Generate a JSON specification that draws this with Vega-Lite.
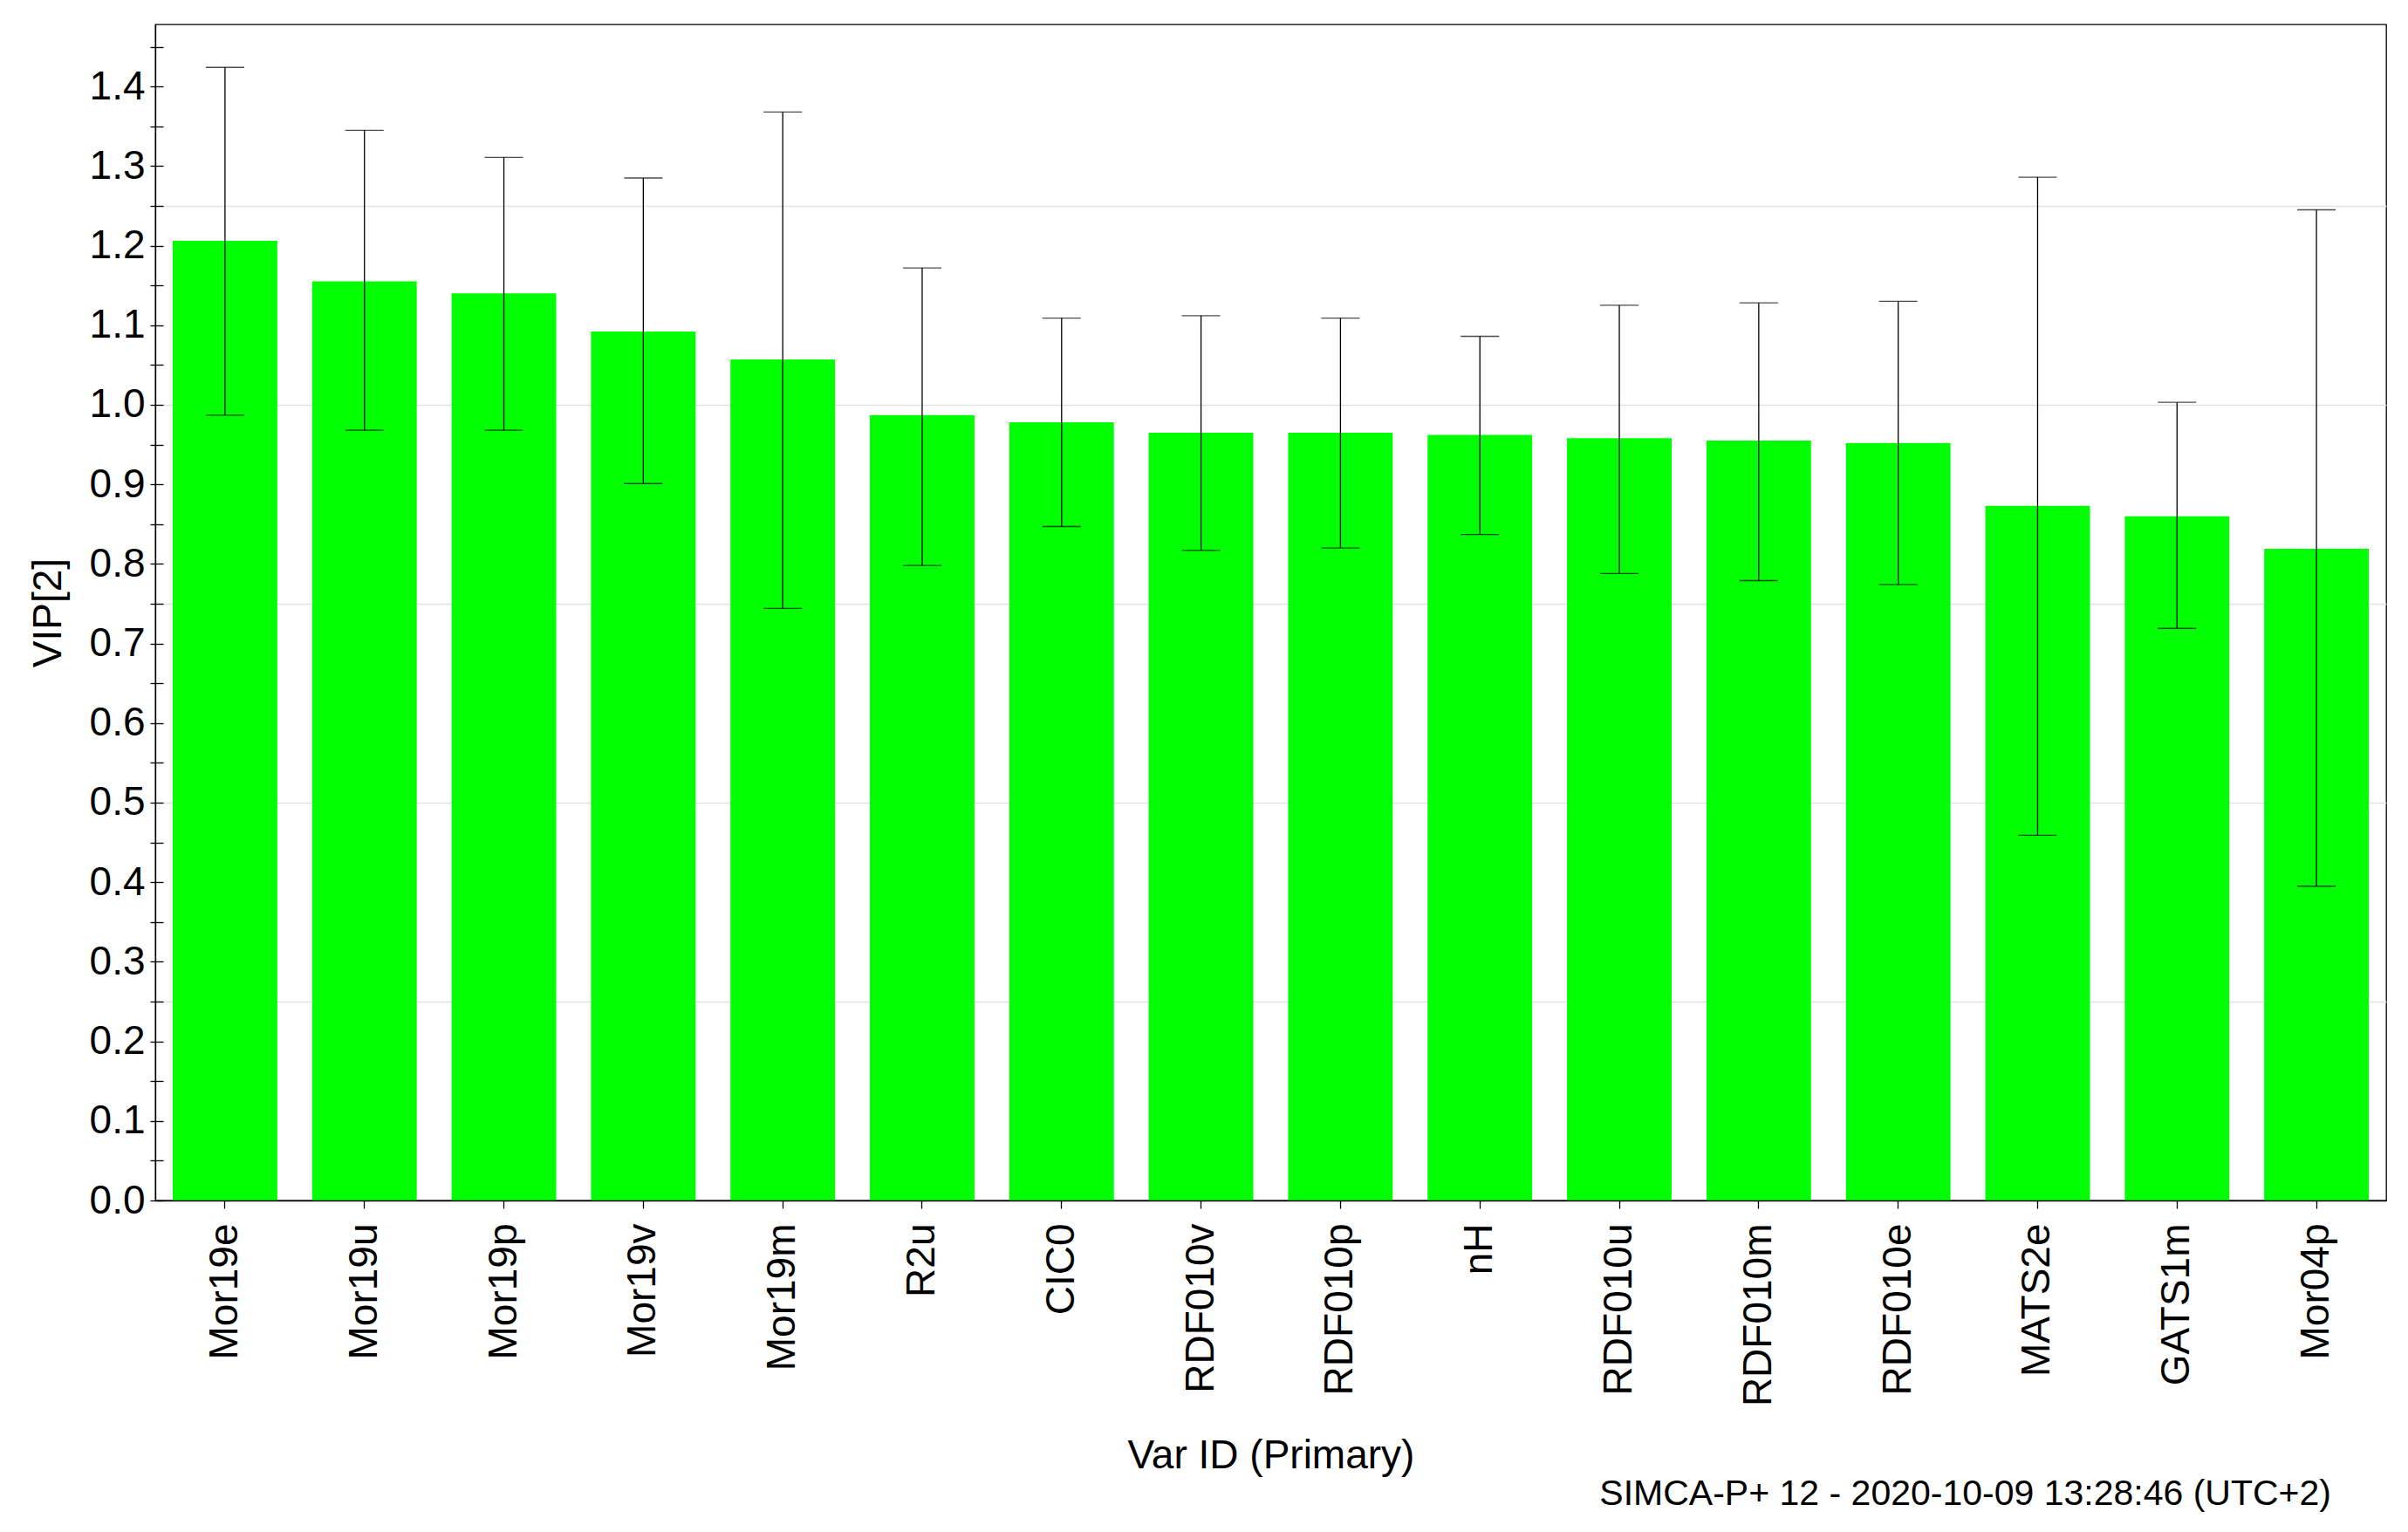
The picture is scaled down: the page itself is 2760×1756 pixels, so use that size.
{
  "$schema": "https://vega.github.io/schema/vega-lite/v6.json",
  "width": 2557,
  "height": 1348,
  "autosize": "none",
  "padding": {"left": 178, "top": 28, "right": 25, "bottom": 380},
  "background": "white",
  "config": {
    "font": "Liberation Sans",
    "view": {"stroke": "black", "strokeWidth": 1.3},
    "axis": {
      "labelFont": "Liberation Sans",
      "titleFont": "Liberation Sans",
      "labelColor": "black",
      "titleColor": "black",
      "domainColor": "black",
      "tickColor": "black",
      "labelFontSize": 46,
      "titleFontSize": 46,
      "titleFontWeight": "normal",
      "domainWidth": 1.3,
      "tickWidth": 1.3,
      "labelLimit": 1000
    }
  },
  "title": {
    "text": "SIMCA-P+ 12 - 2020-10-09 13:28:46 (UTC+2)",
    "orient": "bottom",
    "anchor": "end",
    "fontSize": 41,
    "fontWeight": "normal",
    "font": "Liberation Sans",
    "color": "black",
    "offset": 2,
    "dx": -63
  },
  "data": {
    "values": [
      {"var": "Mor19e", "vip": 1.206, "low": 0.987, "high": 1.424},
      {"var": "Mor19u", "vip": 1.155, "low": 0.968, "high": 1.345},
      {"var": "Mor19p", "vip": 1.140, "low": 0.968, "high": 1.311},
      {"var": "Mor19v", "vip": 1.092, "low": 0.901, "high": 1.285},
      {"var": "Mor19m", "vip": 1.057, "low": 0.744, "high": 1.368},
      {"var": "R2u", "vip": 0.987, "low": 0.798, "high": 1.172},
      {"var": "CIC0", "vip": 0.978, "low": 0.847, "high": 1.109},
      {"var": "RDF010v", "vip": 0.965, "low": 0.817, "high": 1.112},
      {"var": "RDF010p", "vip": 0.965, "low": 0.820, "high": 1.109},
      {"var": "nH", "vip": 0.962, "low": 0.837, "high": 1.086},
      {"var": "RDF010u", "vip": 0.958, "low": 0.788, "high": 1.125},
      {"var": "RDF010m", "vip": 0.955, "low": 0.779, "high": 1.128},
      {"var": "RDF010e", "vip": 0.952, "low": 0.774, "high": 1.130},
      {"var": "MATS2e", "vip": 0.873, "low": 0.459, "high": 1.286},
      {"var": "GATS1m", "vip": 0.860, "low": 0.719, "high": 1.003},
      {"var": "Mor04p", "vip": 0.819, "low": 0.395, "high": 1.245}
    ]
  },
  "encoding": {
    "x": {
      "field": "var",
      "type": "nominal",
      "sort": null,
      "scale": {"paddingInner": 0.25, "paddingOuter": 0.125},
      "axis": {
        "title": "Var ID (Primary)",
        "labelAngle": -90,
        "tickSize": 9,
        "labelPadding": 17,
        "titlePadding": 70,
        "grid": false,
        "zindex": 2
      }
    }
  },
  "layer": [
    {
      "mark": {"type": "bar", "color": "#00ff00"},
      "encoding": {
        "y": {
          "field": "vip",
          "type": "quantitative",
          "scale": {"domain": [0, 1.478], "nice": false, "zero": true},
          "axis": {
            "orient": "left",
            "title": null,
            "labels": false,
            "ticks": false,
            "domain": false,
            "grid": true,
            "gridColor": "#e2e2e2",
            "gridWidth": 1.3,
            "values": [0.25, 0.5, 0.75, 1.0, 1.25],
            "zindex": 0
          }
        }
      }
    },
    {
      "mark": {"type": "rule", "color": "black", "strokeWidth": 1.3},
      "encoding": {
        "y": {
          "field": "low",
          "type": "quantitative",
          "scale": {"domain": [0, 1.478], "nice": false, "zero": true},
          "axis": {
            "orient": "left",
            "title": "VIP[2]",
            "grid": false,
            "tickSize": 6,
            "labelPadding": 6,
            "titlePadding": 23,
            "values": [0, 0.05, 0.1, 0.15, 0.2, 0.25, 0.3, 0.35, 0.4, 0.45, 0.5, 0.55, 0.6, 0.65, 0.7, 0.75, 0.8, 0.85, 0.9, 0.95, 1.0, 1.05, 1.1, 1.15, 1.2, 1.25, 1.3, 1.35, 1.4, 1.45],
            "labelExpr": "abs(datum.value * 10 - round(datum.value * 10)) < 0.001 ? format(datum.value, '.1f') : ''",
            "labelOverlap": false,
            "labelFlush": false,
            "zindex": 2
          }
        },
        "y2": {"field": "high"}
      }
    },
    {
      "mark": {"type": "tick", "color": "black", "thickness": 1.3, "size": 44},
      "encoding": {
        "y": {
          "field": "high",
          "type": "quantitative",
          "scale": {"domain": [0, 1.478], "nice": false, "zero": true},
          "axis": {
            "orient": "left",
            "title": null,
            "labels": false,
            "domain": false,
            "grid": false,
            "tickSize": -9,
            "values": [0, 0.05, 0.1, 0.15, 0.2, 0.25, 0.3, 0.35, 0.4, 0.45, 0.5, 0.55, 0.6, 0.65, 0.7, 0.75, 0.8, 0.85, 0.9, 0.95, 1.0, 1.05, 1.1, 1.15, 1.2, 1.25, 1.3, 1.35, 1.4, 1.45],
            "zindex": 2
          }
        }
      }
    },
    {
      "mark": {"type": "tick", "color": "black", "thickness": 1.3, "size": 44},
      "encoding": {
        "y": {
          "field": "low",
          "type": "quantitative",
          "scale": {"domain": [0, 1.478], "nice": false, "zero": true},
          "axis": null
        }
      }
    }
  ],
  "resolve": {"axis": {"y": "independent"}}
}
